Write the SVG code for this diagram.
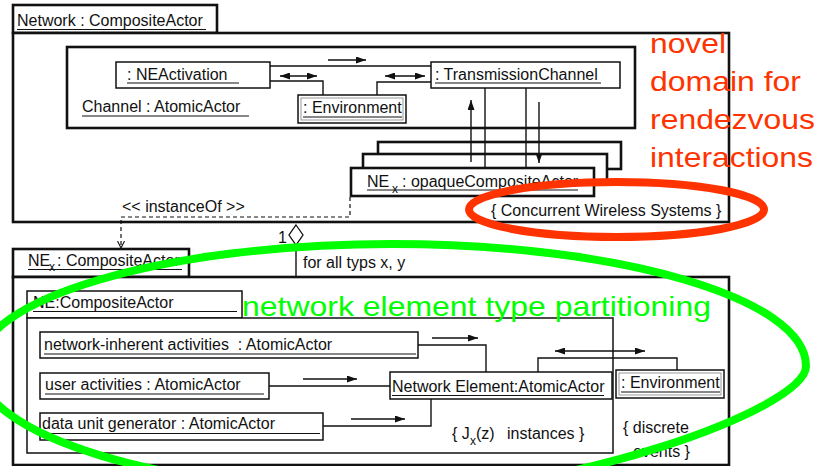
<svg xmlns="http://www.w3.org/2000/svg" width="820" height="466" viewBox="0 0 820 466">
  <style>
    text { font-family: "Liberation Sans", Arial, Helvetica, sans-serif; font-size: 16px; fill: #111; white-space: pre; }
    .sub { font-size: 12px; }
    .frame { fill: #fff; stroke: #111; stroke-width: 2.6; }
    .box { fill: #fff; stroke: #111; stroke-width: 1.5; }
    .inner { fill: none; stroke: #555; stroke-width: 0.6; }
    .ul { stroke: #111; stroke-width: 1.2; }
    .wire { fill: none; stroke: #111; stroke-width: 1.4; }
    .flow { fill: none; stroke: #111; stroke-width: 1.4; marker-end: url(#head); }
    .both { fill: none; stroke: #111; stroke-width: 1.4; marker-start: url(#head); marker-end: url(#head); }
    .dash { fill: none; stroke: #111; stroke-width: 1.2; stroke-dasharray: 4 3; }
    .red { font-size: 28px; fill: #ff3300; }
    .green { font-size: 28px; fill: #00ff00; }
  </style>
  <defs>
    <marker id="head" viewBox="0 0 10 7" refX="10" refY="3.5" markerWidth="10" markerHeight="7" markerUnits="userSpaceOnUse" orient="auto-start-reverse">
      <path d="M0,0 L10,3.5 L0,7 z" fill="#111"/>
    </marker>
    <marker id="open" viewBox="0 0 8 8" refX="7" refY="4" markerWidth="8" markerHeight="8" markerUnits="userSpaceOnUse" orient="auto">
      <path d="M0,0.5 L7,4 L0,7.5" fill="none" stroke="#111" stroke-width="1.1"/>
    </marker>
  </defs>

  <rect width="820" height="466" fill="#fff"/>

  <!-- upper composite: Network -->
  <g id="network">
    <rect class="frame" x="13" y="5" width="204" height="28"/>
    <text x="17" y="26">Network : CompositeActor</text>
    <line class="ul" x1="17" y1="29.5" x2="206" y2="29.5"/>
    <rect class="frame" x="13" y="33" width="716" height="189"/>
    <text x="491" y="216">{ Concurrent Wireless Systems }</text>
  </g>

  <g id="channel">
    <rect class="frame" x="67" y="47" width="568" height="81"/>
    <text x="82" y="112">Channel : AtomicActor</text>
    <line class="ul" x1="82" y1="116" x2="249" y2="116"/>
  </g>

  <g id="ne-activation">
    <rect class="box" x="116" y="62" width="154" height="26"/>
    <text x="127" y="80">: NEActivation</text>
    <line class="ul" x1="127" y1="83" x2="239" y2="83"/>
  </g>

  <g id="environment-top">
    <rect class="box" x="298" y="95" width="108" height="28"/>
    <rect class="inner" x="301" y="98" width="102" height="22"/>
    <text x="303" y="113">: Environment</text>
    <line class="ul" x1="303" y1="117" x2="402" y2="117"/>
  </g>

  <g id="transmission-channel">
    <rect class="box" x="431" y="62" width="189" height="26"/>
    <text x="435" y="80">: TransmissionChannel</text>
    <line class="ul" x1="435" y1="83" x2="601" y2="83"/>
  </g>

  <g id="ne-opaque">
    <rect class="frame" x="378" y="142" width="243" height="27"/>
    <rect class="frame" x="363" y="154" width="244" height="28"/>
    <rect class="frame" x="351" y="168" width="243" height="28"/>
    <text x="367" y="187">NE</text>
    <text class="sub" x="392" y="193">x</text>
    <text x="402" y="187">: opaqueCompositeActor</text>
    <line class="ul" x1="367" y1="190" x2="578" y2="190"/>
  </g>

  <!-- lower composite: NE_x -->
  <g id="ne-x">
    <rect class="frame" x="13" y="249" width="176" height="28"/>
    <text x="28" y="266">NE</text>
    <text class="sub" x="49" y="271">x</text>
    <text x="57" y="266">: CompositeActor</text>
    <line class="ul" x1="28" y1="269.5" x2="182" y2="269.5"/>
    <line class="wire" x1="296" y1="245" x2="296" y2="277"/>
    <text x="303" y="268">for all typs x, y</text>
    <rect class="frame" x="13" y="277" width="716" height="188"/>
    <text x="623" y="433">{ discrete</text>
    <text x="633" y="457">events }</text>
  </g>

  <g id="ne-composite">
    <rect class="box" x="27" y="291" width="215" height="27"/>
    <text x="33" y="308">NE:CompositeActor</text>
    <line class="ul" x1="33" y1="311.5" x2="237" y2="311.5"/>
    <rect class="box" x="27" y="318" width="586" height="135" fill="none"/>
    <text x="452" y="439">{ J</text>
    <text class="sub" x="470" y="445">x</text>
    <text x="476" y="439">(z)</text>
    <text x="507" y="439">instances }</text>
  </g>

  <g id="network-inherent">
    <rect class="box" x="40" y="332" width="378" height="26"/>
    <text x="44" y="350">network-inherent activities  : AtomicActor</text>
    <line class="ul" x1="44" y1="354" x2="416" y2="354"/>
  </g>

  <g id="user-activities">
    <rect class="box" x="40" y="373" width="229" height="26"/>
    <text x="45" y="390">user activities : AtomicActor</text>
    <line class="ul" x1="45" y1="394" x2="264" y2="394"/>
  </g>

  <g id="data-unit-generator">
    <rect class="box" x="40" y="413" width="283" height="27"/>
    <text x="42" y="429">data unit generator : AtomicActor</text>
    <line class="ul" x1="42" y1="433.5" x2="320" y2="433.5"/>
  </g>

  <g id="network-element">
    <rect class="box" x="390" y="372" width="222" height="27"/>
    <text x="392" y="392">Network Element:AtomicActor</text>
    <line class="ul" x1="392" y1="395.5" x2="604" y2="395.5"/>
  </g>

  <g id="environment-bottom">
    <rect class="box" x="616" y="370" width="108" height="28"/>
    <rect class="inner" x="619" y="373" width="102" height="22"/>
    <text x="621" y="388">: Environment</text>
    <line class="ul" x1="621" y1="392" x2="720" y2="392"/>
  </g>

  <!-- connectors -->
  <g id="connectors">
    <path class="wire" d="M270,66 H431"/>
    <path class="flow" d="M328,60 H366"/>
    <path class="wire" d="M270,81 H323 V95"/>
    <path class="both" d="M280,76 H317"/>
    <path class="wire" d="M377,95 V82 H431"/>
    <path class="both" d="M385,76 H425"/>
    <path class="flow" d="M471,162 V100"/>
    <path class="wire" d="M485,88 V168"/>
    <path class="wire" d="M526,88 V168"/>
    <path class="flow" d="M539,102 V163"/>
    <path class="dash" d="M350,197 V217 H121 V248" marker-end="url(#open)"/>
    <text x="122" y="212">&lt;&lt; instanceOf &gt;&gt;</text>
    <path d="M296,225 L303,235 L296,245 L289,235 z" fill="#fff" stroke="#111" stroke-width="1.3"/>
    <text x="278" y="243">1</text>

    <path class="wire" d="M418,345 H486 V372"/>
    <path class="flow" d="M432,338 H478"/>
    <path class="wire" d="M269,386 H390"/>
    <path class="flow" d="M303,379 H357"/>
    <path class="wire" d="M323,426 H431 V399"/>
    <path class="flow" d="M351,419 H405"/>
    <path class="wire" d="M538,372 V358 H677 V370"/>
    <path class="both" d="M555,351 H645"/>
  </g>

  <!-- highlighted remarks -->
  <g id="remarks">
    <text class="red" x="650" y="53" textLength="76" lengthAdjust="spacingAndGlyphs">novel</text>
    <text class="red" x="650" y="91" textLength="151" lengthAdjust="spacingAndGlyphs">domain for</text>
    <text class="red" x="650" y="129" textLength="165" lengthAdjust="spacingAndGlyphs">rendezvous</text>
    <text class="red" x="650" y="167" textLength="163" lengthAdjust="spacingAndGlyphs">interactions</text>
    <ellipse cx="616.5" cy="209.5" rx="147.5" ry="27.5" fill="none" stroke="#ff3300" stroke-width="8"/>
    <text class="green" x="242" y="316" textLength="469" lengthAdjust="spacingAndGlyphs">network element type partitioning</text>
    <path d="M-22,366 C-22,298.6 163.4,244 392,244 C620.6,244 806,298.6 806,366 C806,410 560,495 392,492 C163.4,492 -22,435.6 -22,366 z" fill="none" stroke="#00ff00" stroke-width="8"/>
  </g>
</svg>
